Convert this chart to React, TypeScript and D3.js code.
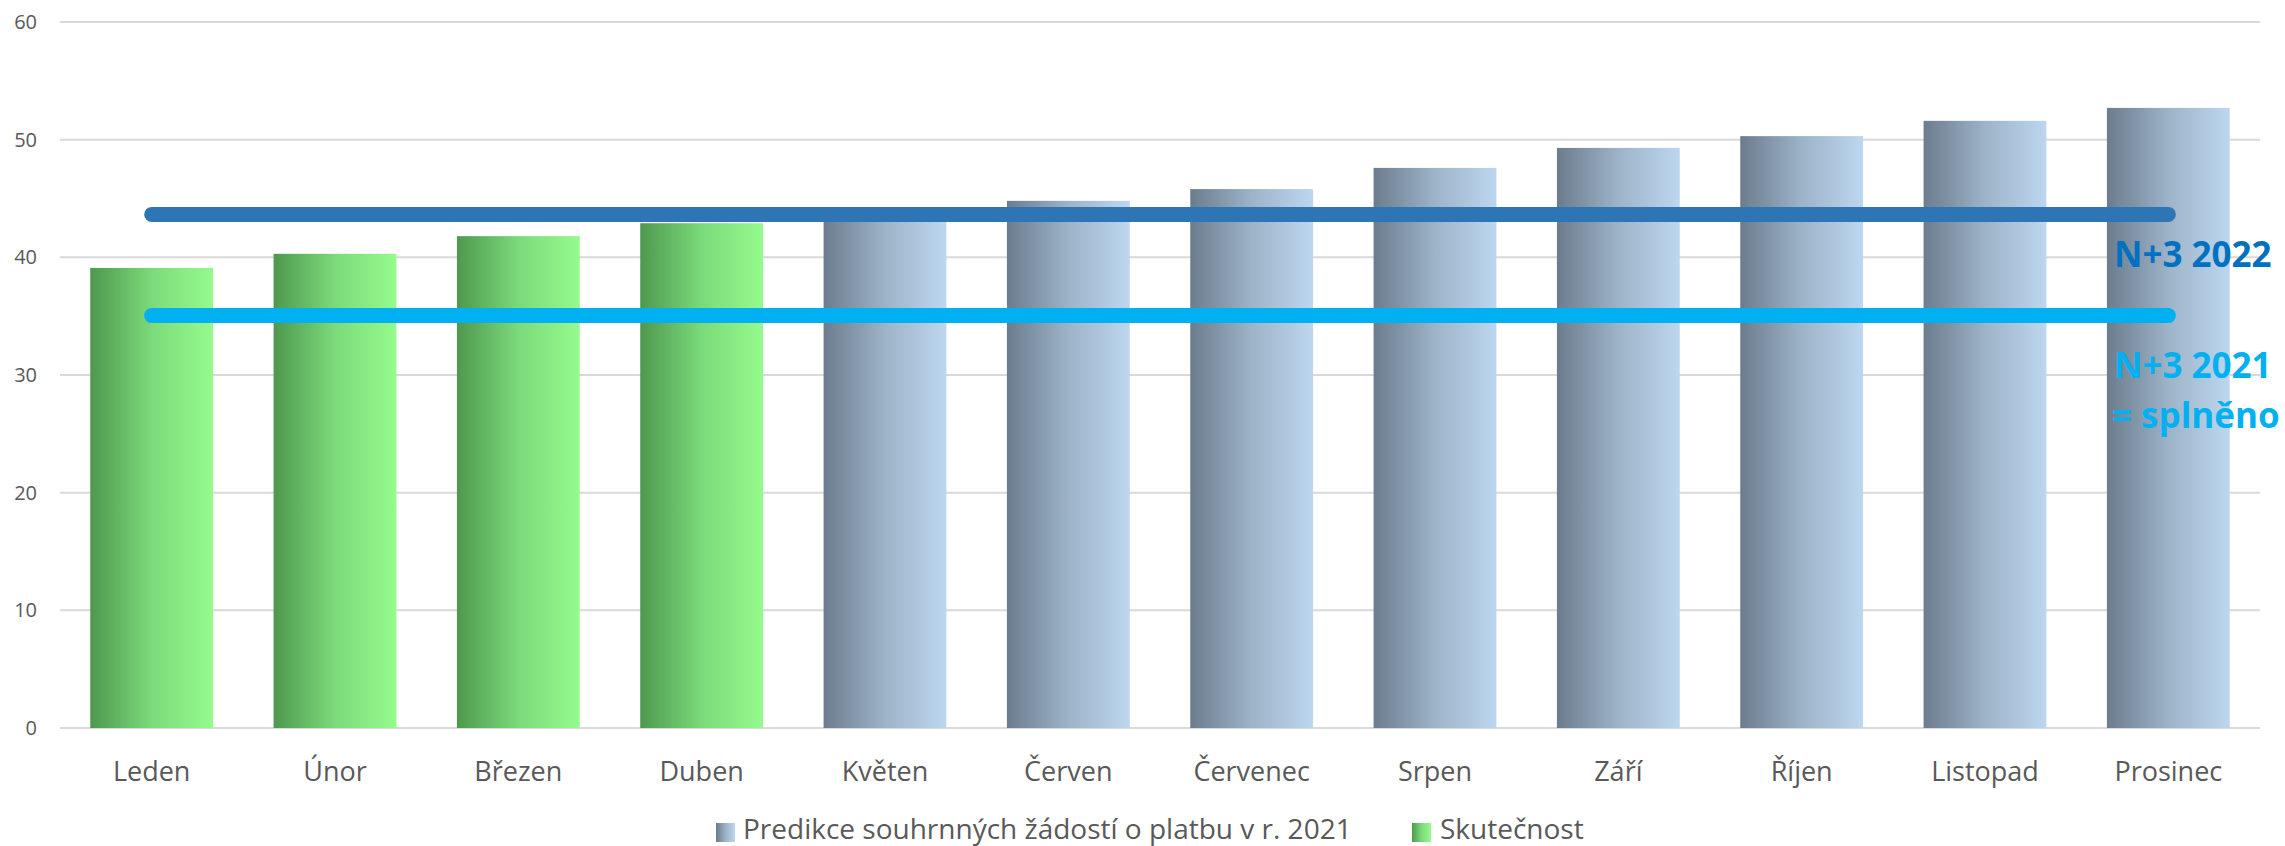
import * as d3 from "d3";

const months = [
  "Leden", "Únor", "Březen", "Duben", "Květen", "Červen",
  "Červenec", "Srpen", "Září", "Říjen", "Listopad", "Prosinec",
];
// Skutečnost (actual) – first four months
const actual: (number | null)[] = [39.1, 40.3, 41.8, 42.9, null, null, null, null, null, null, null, null];
// Predikce souhrnných žádostí o platbu v r. 2021
const forecast: (number | null)[] = [null, null, null, null, 43.6, 44.8, 45.8, 47.6, 49.3, 50.3, 51.6, 52.7];
const yTicks = [0, 10, 20, 30, 40, 50, 60];
const n3_2022 = 43.65;
const n3_2021 = 35.05;

const W = 2285;
const H = 846;
const left = 60;
const right = 2260;
const top = 22;
const bottom = 728;
const font = "'Open Sans', 'Noto Sans', sans-serif";

export default function App() {
  const x = d3.scaleBand<string>().domain(months).range([left, right]).paddingInner(0.33).paddingOuter(0.165);
  const y = d3.scaleLinear().domain([0, 60]).range([bottom, top]);
  const cx = (m: string) => (x(m) as number) + x.bandwidth() / 2;
  const line = d3.line<[number, number]>().x((d) => d[0]).y((d) => d[1]);
  const first = cx(months[0]);
  const last = cx(months[months.length - 1]);

  const bars = (vals: (number | null)[], fill: string) =>
    vals.map((v, i) =>
      v == null ? null : (
        <rect
          key={fill + i}
          x={x(months[i])}
          y={y(v)}
          width={x.bandwidth()}
          height={y(0) - y(v)}
          fill={fill}
        />
      )
    );

  return (
    <svg width={W} height={H} style={{ position: "absolute", left: 0, top: 0 }} fontFamily={font}>
      <defs>
        <linearGradient id="gBlue" x1="0" x2="1" y1="0" y2="0">
          <stop offset="0%" stopColor="#6B7C8D" />
          <stop offset="50%" stopColor="#9DB3C8" />
          <stop offset="100%" stopColor="#BCD7EF" />
        </linearGradient>
        <linearGradient id="gGreen" x1="0" x2="1" y1="0" y2="0">
          <stop offset="0%" stopColor="#4E984E" />
          <stop offset="50%" stopColor="#7BDA7A" />
          <stop offset="100%" stopColor="#95FB8D" />
        </linearGradient>
      </defs>
      <rect width={W} height={H} fill="#fff" />

      {yTicks.map((t) => (
        <g key={t}>
          <line x1={left} x2={right} y1={y(t)} y2={y(t)} stroke="#D9D9D9" strokeWidth={2} />
          <text x={37} y={y(t)} dy="0.35em" textAnchor="end" fontSize={20} fill="#595959">
            {t}
          </text>
        </g>
      ))}

      {bars(forecast, "url(#gBlue)")}
      {bars(actual, "url(#gGreen)")}

      {months.map((m) => (
        <text key={m} x={cx(m)} y={781} textAnchor="middle" fontSize={27} fill="#595959">
          {m}
        </text>
      ))}

      <path
        d={line([[first, y(n3_2022)], [last, y(n3_2022)]]) as string}
        stroke="#2E75B6"
        strokeWidth={15}
        strokeLinecap="round"
        fill="none"
      />
      <path
        d={line([[first, y(n3_2021)], [last, y(n3_2021)]]) as string}
        stroke="#00B0F0"
        strokeWidth={15}
        strokeLinecap="round"
        fill="none"
      />

      <text x={2114} y={267} fontSize={35} fontWeight="bold" fill="#0070C0">N+3 2022</text>
      <text x={2114} y={378} fontSize={35} fontWeight="bold" fill="#00B0F0">N+3 2021</text>
      <text x={2112} y={428} fontSize={35} fontWeight="bold" fill="#00B0F0">= splněno</text>

      <g fontSize={28} fill="#595959">
        <rect x={716} y={823} width={19} height={19} fill="url(#gBlue)" />
        <text x={743} y={839}>Predikce souhrnných žádostí o platbu v r. 2021</text>
        <rect x={1412} y={823} width={19} height={19} fill="url(#gGreen)" />
        <text x={1440} y={839}>Skutečnost</text>
      </g>
    </svg>
  );
}
